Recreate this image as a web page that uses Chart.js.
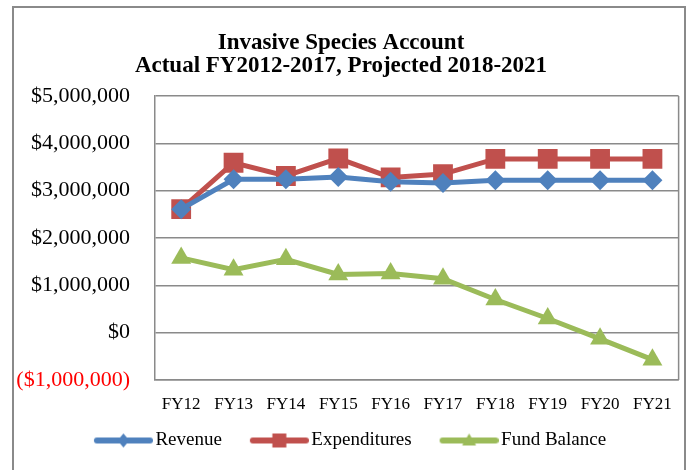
<!DOCTYPE html>
<html>
<head>
<meta charset="utf-8">
<script src="https://cdn.jsdelivr.net/npm/chart.js@4/dist/chart.umd.min.js"></script>
<style>
    body { margin: 0; background: #fff; }
    #page { position: relative; width: 686px; height: 470px; overflow: hidden; }
    #frame { position: absolute; left: 12px; top: 6px; width: 674px; height: 480px; border: 2px solid #8a8a8a; box-sizing: border-box; }
    #wrap { position: absolute; left: 0; top: 0; width: 686px; height: 470px; }
</style>
</head>
<body>
<div id="page">
    <div id="frame"></div>
    <div id="wrap"><canvas id="lineChart"></canvas></div>
</div>
<script>
const years = ['FY12', 'FY13', 'FY14', 'FY15', 'FY16', 'FY17', 'FY18', 'FY19', 'FY20', 'FY21'];
const revenue = [2610000, 3240000, 3240000, 3290000, 3190000, 3160000, 3220000, 3220000, 3220000, 3220000];
const expenditures = [2610000, 3590000, 3310000, 3680000, 3280000, 3350000, 3670000, 3670000, 3670000, 3670000];
const fundBalance = [1580000, 1330000, 1550000, 1230000, 1250000, 1140000, 700000, 300000, -130000, -570000];
const titleLines = ['Invasive Species Account', 'Actual FY2012-2017, Projected 2018-2021'];

const blue = '#4F81BD';
const red = '#C0504D';
const green = '#9BBB59';
const grey = '#8a8a8a';

// ikon legend: garis dengan marker di tengah, digeser ke kanan supaya dekat dengan teks
function legendIcon(color, shape) {
    const c = document.createElement('canvas');
    c.width = 84;
    c.height = 18;
    const g = c.getContext('2d');
    g.strokeStyle = color;
    g.fillStyle = color;
    g.lineWidth = 6;
    g.lineCap = 'round';
    g.beginPath();
    g.moveTo(28, 9);
    g.lineTo(81, 9);
    g.stroke();
    g.beginPath();
    const m = 54.5;
    if (shape === 'diamond') {
        g.moveTo(m, 2); g.lineTo(m + 6, 9); g.lineTo(m, 16); g.lineTo(m - 6, 9);
    } else if (shape === 'square') {
        g.rect(m - 7, 2, 14, 14);
    } else {
        g.moveTo(m, 2); g.lineTo(m + 7, 14); g.lineTo(m - 7, 14);
    }
    g.closePath();
    g.fill();
    return c;
}
const icons = [legendIcon(blue, 'diamond'), legendIcon(red, 'square'), legendIcon(green, 'triangle')];

function money(v) {
    const s = '$' + Math.abs(v).toLocaleString('en-US');
    return v < 0 ? '(' + s + ')' : s;
}

const areaBorder = {
    id: 'areaBorder',
    afterDraw(chart) {
        const a = chart.chartArea;
        const ctx = chart.ctx;
        ctx.save();
        ctx.strokeStyle = grey;
        ctx.lineWidth = 1.5;
        ctx.beginPath();
        ctx.moveTo(a.right, a.top);
        ctx.lineTo(a.right, a.bottom);
        ctx.stroke();
        ctx.restore();
    }
};

const ctx = document.getElementById('lineChart').getContext('2d');
const lineChart = new Chart(ctx, {
    type: 'line',
    data: {
        labels: years,
        datasets: [{
            label: 'Revenue',
            data: revenue,
            borderColor: blue,
            backgroundColor: blue,
            borderWidth: 5,
            pointStyle: 'rectRot',
            pointRadius: 10,
            pointBorderWidth: 0
        }, {
            label: 'Expenditures',
            data: expenditures,
            borderColor: red,
            backgroundColor: red,
            borderWidth: 5,
            pointStyle: 'rect',
            pointRadius: 14,
            pointBorderWidth: 0
        }, {
            label: 'Fund Balance',
            data: fundBalance,
            borderColor: green,
            backgroundColor: green,
            borderWidth: 5,
            pointStyle: 'triangle',
            pointRadius: 11.5,
            pointBorderWidth: 0
        }]
    },
    options: {
        responsive: true,
        maintainAspectRatio: false,
        animation: false,
        layout: { autoPadding: false, padding: { top: 32, right: 4, left: 0, bottom: 10 } },
        scales: {
            x: {
                offset: true,
                grid: { display: false, drawTicks: false },
                border: { display: true, color: grey, width: 1.5 },
                ticks: { color: '#000', padding: 14, font: { family: 'Liberation Serif', size: 17 } },
                afterFit(scale) { scale.height = 41; }
            },
            y: {
                min: -1000000,
                max: 5000000,
                ticks: {
                    stepSize: 1000000,
                    padding: 25,
                    callback: money,
                    color: c => c.tick.value < 0 ? '#ff0000' : '#000',
                    font: { family: 'Liberation Serif', size: 22 }
                },
                grid: { color: grey, lineWidth: 1.5, drawTicks: false },
                border: { display: true, color: grey, width: 1.5 },
                afterFit(scale) { scale.width = 155; }
            }
        },
        plugins: {
            title: {
                display: true,
                text: titleLines,
                color: '#000',
                font: { family: 'Liberation Serif', size: 23, weight: 'bold', lineHeight: 1.0 },
                padding: { top: 0, bottom: 18 }
            },
            legend: {
                position: 'bottom',
                labels: {
                    usePointStyle: true,
                    pointStyleWidth: 70,
                    padding: 10,
                    color: '#000',
                    font: { family: 'Liberation Serif', size: 19 },
                    generateLabels(chart) {
                        const items = Chart.defaults.plugins.legend.labels.generateLabels(chart);
                        items.forEach((it, i) => { it.pointStyle = icons[i]; });
                        return items;
                    }
                }
            },
            tooltip: { enabled: false }
        }
    },
    plugins: [areaBorder]
});
</script>
</body>
</html>
